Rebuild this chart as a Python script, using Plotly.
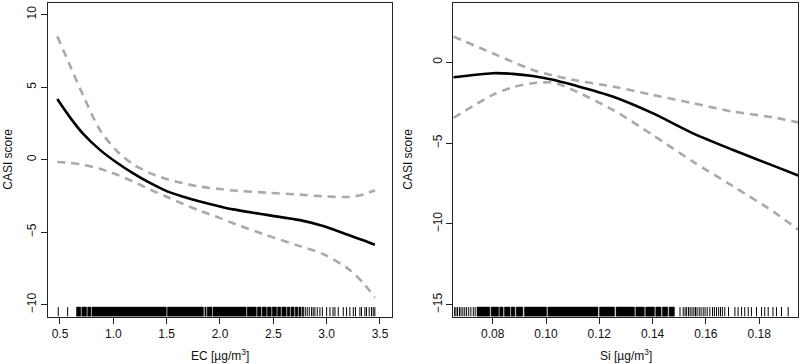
import plotly.graph_objects as go

# ---------------- data: left panel (EC) ----------------
EC_X = [0.475, 0.594, 0.718, 0.875, 1.031, 1.187, 1.344, 1.5, 1.656, 1.812,
        2.0, 2.124, 2.437, 2.749, 2.968, 3.218, 3.35, 3.452]
EC_FIT = [4.18, 2.92, 1.78, 0.68, -0.19, -0.94, -1.6, -2.16, -2.55, -2.88,
          -3.22, -3.42, -3.8, -4.16, -4.56, -5.22, -5.57, -5.85]
EC_UPPER = [8.5, 6.5, 4.42, 2.05, 0.62, -0.32, -0.92, -1.33, -1.62, -1.85,
            -2.02, -2.12, -2.27, -2.4, -2.52, -2.56, -2.38, -2.1]
EC_LOWER = [-0.16, -0.22, -0.35, -0.62, -1.02, -1.5, -2.05, -2.55, -3.05, -3.52,
            -4.02, -4.38, -5.2, -5.95, -6.5, -7.6, -8.55, -9.5]
EC_RUG_TICKS = [0.484, 0.572, 2.80, 2.818, 2.837, 2.859, 2.874, 2.89, 2.912, 2.937,
                2.96, 3.0, 3.031, 3.06, 3.078, 3.109, 3.156, 3.187, 3.218, 3.25,
                3.27, 3.312, 3.327, 3.359, 3.374, 3.399, 3.421, 3.437, 3.452]
EC_RUG_BLOCKS = [(0.655, 0.695), (0.705, 0.75), (0.76, 0.79), (0.80, 1.497),
                 (1.508, 1.845), (1.858, 1.87), (1.88, 1.925), (1.935, 2.245),
                 (2.255, 2.34), (2.35, 2.385), (2.395, 2.435), (2.445, 2.48),
                 (2.49, 2.53), (2.54, 2.57), (2.58, 2.62), (2.63, 2.655),
                 (2.665, 2.695), (2.705, 2.73), (2.74, 2.76), (2.77, 2.785)]
EC_XTICKS = [0.5, 1.0, 1.5, 2.0, 2.5, 3.0, 3.5]
EC_XTICK_LABELS = ["0.5", "1.0", "1.5", "2.0", "2.5", "3.0", "3.5"]
EC_YTICKS = [-10, -5, 0, 5, 10]
EC_YTICK_LABELS = ["\u221210", "\u22125", "0", "5", "10"]

# ---------------- data: right panel (Si) ----------------
SI_X = [0.0652, 0.08, 0.0875, 0.095, 0.1026, 0.11, 0.125, 0.14, 0.155, 0.17, 0.185, 0.1947]
SI_FIT = [-0.93, -0.68, -0.72, -0.85, -1.08, -1.40, -2.12, -3.15, -4.38, -5.41, -6.38, -7.0]
SI_UPPER = [1.59, 0.55, 0.02, -0.48, -0.82, -1.09, -1.5, -2.02, -2.53, -3.05, -3.40, -3.72]
SI_LOWER = [-3.45, -2.02, -1.55, -1.30, -1.26, -1.71, -2.94, -4.49, -6.13, -7.65, -9.2, -10.35]
SI_RUG_TICKS = [0.0657, 0.0662, 0.0668, 0.0675, 0.0681, 0.0688, 0.0695, 0.0702, 0.0710,
                0.0718, 0.0727, 0.0734, 0.1503, 0.1515, 0.1522, 0.1528, 0.1535, 0.1541,
                0.1548, 0.1555, 0.1561, 0.1567, 0.1575, 0.1582, 0.1590, 0.1597, 0.1605,
                0.1615, 0.1625, 0.1632, 0.1640, 0.1648, 0.1655, 0.1662, 0.1671, 0.1685,
                0.1709, 0.1721, 0.1734, 0.1746, 0.1759, 0.1771, 0.1790, 0.1809, 0.1821,
                0.1834, 0.1852, 0.1865, 0.1884, 0.1909]
SI_RUG_BLOCKS = [(0.0741, 0.0789), (0.0794, 0.0822), (0.0826, 0.0839), (0.0844, 0.0865),
                 (0.0869, 0.0883), (0.0888, 0.0913), (0.0919, 0.1002), (0.1007, 0.1195),
                 (0.1201, 0.1257), (0.1263, 0.1332), (0.1337, 0.1369), (0.1374, 0.1407),
                 (0.1412, 0.1432), (0.1437, 0.1457), (0.1462, 0.1482)]
SI_XTICKS = [0.08, 0.10, 0.12, 0.14, 0.16, 0.18]
SI_XTICK_LABELS = ["0.08", "0.10", "0.12", "0.14", "0.16", "0.18"]
SI_YTICKS = [-15, -10, -5, 0]
SI_YTICK_LABELS = ["\u221215", "\u221210", "\u22125", "0"]

EC_XRANGE = [0.385, 3.61]
EC_YRANGE = [-10.8, 10.8]
SI_XRANGE = [0.0652, 0.1947]
SI_YRANGE = [-15.72, 3.66]

FONT = "Liberation Sans, Arial, sans-serif"
DASH_COLOR = "#a9a9a9"

fig = go.Figure()


def add_panel(x, fit, up, lo, ticks, blocks, yrange, xa, ya):
    for ys in (up, lo):
        fig.add_trace(go.Scatter(x=x, y=ys, mode="lines", xaxis=xa, yaxis=ya,
                                 line=dict(color=DASH_COLOR, width=2.6, dash="8px,6px",
                                           shape="spline", smoothing=0.8),
                                 showlegend=False, hoverinfo="skip"))
    fig.add_trace(go.Scatter(x=x, y=fit, mode="lines", xaxis=xa, yaxis=ya,
                             line=dict(color="black", width=2.6, shape="spline", smoothing=0.8),
                             showlegend=False, hoverinfo="skip"))
    y0 = yrange[0]
    h = 0.03 * (yrange[1] - yrange[0])
    rx, ry = [], []
    for t in ticks:
        rx += [t, t, None]
        ry += [y0, y0 + h, None]
    fig.add_trace(go.Scatter(x=rx, y=ry, mode="lines", xaxis=xa, yaxis=ya,
                             line=dict(color="black", width=1),
                             showlegend=False, hoverinfo="skip"))
    bx, by = [], []
    for a, b in blocks:
        bx += [a, b, b, a, a, None]
        by += [y0, y0, y0 + h, y0 + h, y0, None]
    fig.add_trace(go.Scatter(x=bx, y=by, mode="lines", fill="toself", fillcolor="black",
                             xaxis=xa, yaxis=ya, line=dict(color="black", width=0.5),
                             showlegend=False, hoverinfo="skip"))


add_panel(EC_X, EC_FIT, EC_UPPER, EC_LOWER, EC_RUG_TICKS, EC_RUG_BLOCKS, EC_YRANGE, "x", "y")
add_panel(SI_X, SI_FIT, SI_UPPER, SI_LOWER, SI_RUG_TICKS, SI_RUG_BLOCKS, SI_YRANGE, "x2", "y2")

W, H = 800, 364
ydom = [(H - 316.5) / H, (H - 3) / H]
axis_common = dict(showline=True, mirror=True, linecolor="#222", linewidth=1,
                   ticks="outside", ticklen=6, tickcolor="#222", tickwidth=1,
                   showgrid=False, zeroline=False,
                   tickfont=dict(family=FONT, size=12, color="#111"))

fig.update_layout(
    width=W, height=H, margin=dict(l=0, r=0, t=0, b=0),
    paper_bgcolor="white", plot_bgcolor="white",
    showlegend=False,
    xaxis=dict(domain=[47.7 / W, 391.7 / W], range=EC_XRANGE, tickvals=EC_XTICKS,
               ticktext=EC_XTICK_LABELS, anchor="y", **axis_common),
    yaxis=dict(domain=ydom, range=EC_YRANGE, tickvals=EC_YTICKS, ticktext=EC_YTICK_LABELS,
               tickangle=-90, anchor="x", **axis_common),
    xaxis2=dict(domain=[453.3 / W, 798.3 / W], range=SI_XRANGE, tickvals=SI_XTICKS,
                ticktext=SI_XTICK_LABELS, anchor="y2", **axis_common),
    yaxis2=dict(domain=ydom, range=SI_YRANGE, tickvals=SI_YTICKS, ticktext=SI_YTICK_LABELS,
                tickangle=-90, anchor="x2", **axis_common),
)

ymid = 1 - (3 + 316.5) / 2 / H
ann_font = dict(family=FONT, size=12, color="#111")
fig.add_annotation(text="CASI score", x=8 / W, y=ymid, xref="paper", yref="paper",
                   textangle=-90, showarrow=False, font=ann_font, xanchor="center", yanchor="middle")
fig.add_annotation(text="CASI score", x=408 / W, y=ymid, xref="paper", yref="paper",
                   textangle=-90, showarrow=False, font=ann_font, xanchor="center", yanchor="middle")
fig.add_annotation(text="EC [\u00b5g/m<sup>3</sup>]", x=(47.7 + 391.7) / 2 / W, y=1 - 355 / H,
                   xref="paper", yref="paper", showarrow=False, font=ann_font,
                   xanchor="center", yanchor="middle")
fig.add_annotation(text="Si [\u00b5g/m<sup>3</sup>]", x=(453.3 + 798.3) / 2 / W, y=1 - 355 / H,
                   xref="paper", yref="paper", showarrow=False, font=ann_font,
                   xanchor="center", yanchor="middle")

fig.write_html("out.html", config={"displayModeBar": False},
               post_script="document.body.style.margin='0';document.body.style.overflow='hidden';")
